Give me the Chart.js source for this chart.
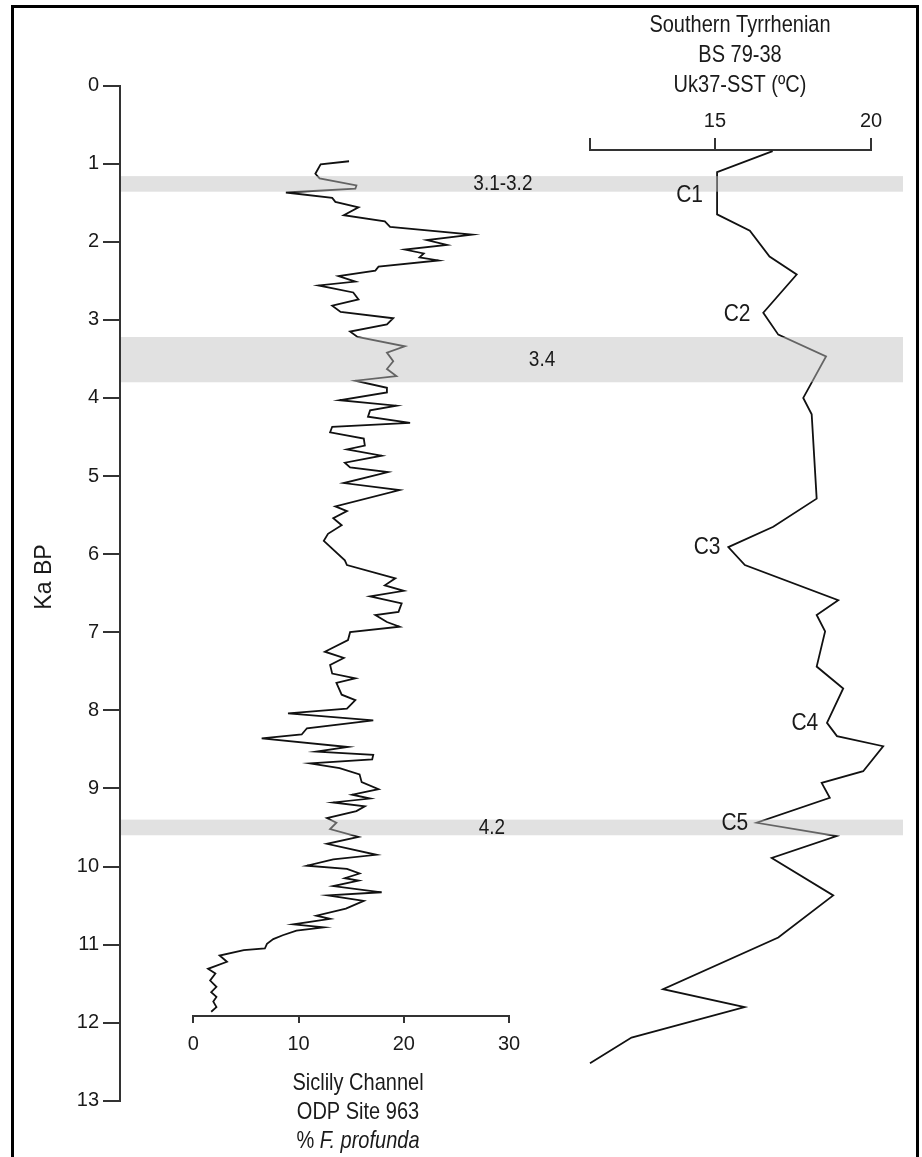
<!DOCTYPE html>
<html>
<head>
<meta charset="utf-8">
<script src="https://cdn.jsdelivr.net/npm/chart.js@4.4.1/dist/chart.umd.min.js"></script>
<style>
  html, body { margin: 0; padding: 0; background: #fff; overflow: hidden; }
  #page { position: relative; width: 922px; height: 1157px; }
  #page canvas { position: absolute; left: 0; top: 0; }
  #frame { position: absolute; left: 11px; top: 5px; width: 908px; height: 1170px; border: 3px solid #000; box-sizing: border-box; }
</style>
</head>
<body>
<div id="page">
  <div id="frame"></div>
  <canvas id="chart-profunda" width="922" height="1157"></canvas>
  <canvas id="chart-sst" width="922" height="1157"></canvas>
  <canvas id="chart-age" width="922" height="1157"></canvas>
</div>
<script>
//----------------------------------données

// Sicily Channel, ODP Site 963 : % F. profunda
const profKa = [0.97, 1.01, 1.13, 1.19, 1.28, 1.32, 1.37, 1.44, 1.49, 1.56, 1.66, 1.74, 1.81, 1.91, 1.98, 2.04, 2.10, 2.15, 2.20, 2.24,
  2.32, 2.37, 2.44, 2.51, 2.56, 2.65, 2.74, 2.82, 2.90, 2.98, 3.06, 3.15, 3.22, 3.34, 3.42, 3.53, 3.63, 3.72, 3.78, 3.87,
  3.93, 4.03, 4.10, 4.16, 4.24, 4.32, 4.37, 4.44, 4.52, 4.61, 4.66, 4.74, 4.83, 4.89, 4.95, 5.09, 5.18, 5.39, 5.45, 5.54,
  5.63, 5.74, 5.83, 6.08, 6.14, 6.31, 6.40, 6.47, 6.54, 6.63, 6.74, 6.78, 6.87, 6.93, 7.00, 7.10, 7.25, 7.33, 7.42, 7.53,
  7.59, 7.65, 7.80, 7.87, 7.98, 8.04, 8.13, 8.23, 8.31, 8.36, 8.47, 8.53, 8.57, 8.63, 8.68, 8.74, 8.82, 8.92, 9.01, 9.08,
  9.13, 9.18, 9.23, 9.29, 9.38, 9.44, 9.52, 9.62, 9.71, 9.85, 9.91, 9.99, 10.03, 10.09, 10.15, 10.18, 10.25, 10.33, 10.37, 10.44,
  10.54, 10.63, 10.67, 10.74, 10.78, 10.82, 10.88, 10.93, 10.99, 11.05, 11.07, 11.14, 11.22, 11.31, 11.37, 11.46, 11.54, 11.61, 11.67, 11.73,
  11.80, 11.86]
const profPct = [14.8, 12.1, 11.6, 12.0, 15.5, 15.4, 8.8, 13.2, 13.5, 15.7, 14.3, 18.2, 18.7, 26.5, 22.2, 24.1, 20.1, 21.9, 21.5, 23.3,
  17.6, 17.3, 13.8, 15.4, 11.9, 15.2, 15.7, 13.2, 14.0, 19.0, 18.4, 14.9, 15.6, 20.1, 18.4, 19.0, 18.4, 19.3, 15.4, 18.4,
  18.4, 13.9, 19.3, 16.8, 16.6, 20.6, 13.2, 13.0, 16.2, 16.3, 14.6, 17.9, 14.4, 14.9, 18.5, 14.3, 19.6, 13.5, 14.6, 13.3,
  14.1, 12.8, 12.4, 14.4, 14.6, 19.2, 18.2, 20.0, 16.8, 19.8, 19.5, 17.3, 18.4, 19.6, 14.9, 14.7, 12.5, 14.3, 13.0, 13.2,
  15.4, 13.6, 14.1, 15.4, 14.6, 9.0, 17.1, 10.8, 10.3, 6.5, 14.7, 11.7, 17.1, 17.0, 11.1, 13.9, 15.8, 16.0, 17.6, 15.1,
  16.8, 13.3, 16.3, 15.5, 12.7, 13.6, 13.0, 15.7, 12.7, 17.4, 13.3, 10.8, 14.6, 15.8, 14.4, 15.7, 13.3, 17.9, 12.8, 16.2,
  14.5, 11.7, 13.0, 9.5, 12.4, 9.8, 8.5, 7.6, 7.0, 6.8, 4.8, 2.5, 3.2, 1.4, 2.1, 1.6, 2.2, 1.7, 2.2, 1.9,
  2.2, 1.7]
const profTicks = [0, 10, 20, 30]

// Southern Tyrrhenian, BS 79-38 : Uk37-SST (°C)
const sstKa = [0.84, 1.11, 1.65, 1.86, 2.19, 2.42, 2.91, 3.19, 3.47, 4.00, 4.21, 5.29, 5.65, 5.91, 6.14, 6.59, 6.78, 6.99, 7.44, 7.72,
  8.16, 8.33, 8.46, 8.78, 8.93, 9.12, 9.44, 9.61, 9.89, 10.37, 10.91, 11.57, 11.80, 12.19, 12.52]
const sstVal = [16.85, 15.07, 15.07, 16.12, 16.75, 17.62, 16.55, 17.03, 18.56, 17.83, 18.10, 18.26, 16.87, 15.43, 15.96, 18.95, 18.26, 18.53, 18.26, 19.11,
  18.59, 18.91, 20.39, 19.75, 18.42, 18.68, 16.34, 18.90, 16.82, 18.79, 17.03, 13.34, 15.95, 12.33, 11.0]
const sstTicks = [11, 15, 20]

// épisodes froids C1..C5 (ancrés en ka / °C)
const coldLabels = ['C1', 'C2', 'C3', 'C4', 'C5']
const coldKa = [1.40, 2.93, 5.91, 8.16, 9.44]
const coldSst = [14.62, 16.14, 15.18, 18.31, 16.07]

// axe des âges et bandes grises
const ageTicks = [0, 1, 2, 3, 4, 5, 6, 7, 8, 9, 10, 11, 12, 13]
const bandFrom = [1.16, 3.22, 9.40]
const bandTo = [1.36, 3.80, 9.60]
const bandLabels = ['3.1-3.2', '3.4', '4.2']

//----------------------------------mise en page (pixels)
const FONT = "'Liberation Sans', Arial, sans-serif"
const AGE_TOP = 85.5      // pixel du 0 ka
const PX_KA = 78.1        // pixels par ka
const ageMax = ageTicks[ageTicks.length - 1]
const ageBottom = AGE_TOP + PX_KA * ageMax
const profBase = 1016     // ligne de base de l'axe % F. profunda
const sstBase = 150       // ligne de l'axe SST
const bandLabelX = [0.489, 0.539, 0.475]   // fraction de la largeur du panneau
const STRETCH = 1.18      // le texte de la figure est étiré verticalement

const noLegend = { legend: { display: false }, tooltip: { enabled: false } }
const axisLine = { color: '#333', width: 2 }
const tickFont = { family: FONT, size: 20 }

// texte centré sur (x, y), étiré verticalement comme l'original
function txt(ctx, s, x, y, size, align, style) {
  ctx.save()
  ctx.translate(x, y)
  ctx.scale(1, STRETCH)
  ctx.font = (style || '') + ' ' + size + 'px ' + FONT
  ctx.fillStyle = '#1a1a1a'
  ctx.textAlign = align || 'center'
  ctx.textBaseline = 'middle'
  ctx.fillText(s, 0, 0)
  ctx.restore()
}

// diagramme % F. profunda
const profChart = new Chart(document.getElementById('chart-profunda'), {
  type: 'line',
  data: {
    datasets: [{
      data: profKa.map((ka, i) => ({ x: profPct[i], y: ka })),
      borderColor: '#111',
      borderWidth: 1.8,
      pointRadius: 0,
      tension: 0
    }]
  },
  options: {
    responsive: false,
    animation: false,
    layout: { padding: { left: 193.3, right: 922 - 509, top: AGE_TOP, bottom: 1157 - profBase - 50 } },
    plugins: noLegend,
    scales: {
      x: {
        type: 'linear', position: 'bottom',
        min: profTicks[0], max: profTicks[profTicks.length - 1],
        afterFit: s => { s.height = 50 },
        afterBuildTicks: s => { s.ticks = profTicks.map(v => ({ value: v })) },
        ticks: { color: '#1a1a1a', font: tickFont, padding: 9 },
        grid: { drawOnChartArea: false, tickLength: 7, color: '#333', lineWidth: 2 },
        border: axisLine
      },
      y: { type: 'linear', reverse: true, min: 0, max: (profBase - AGE_TOP) / PX_KA, display: false }
    }
  },
  plugins: [{
    id: 'profTitle',
    afterDraw(chart) {
      const ctx = chart.ctx
      const cx = 358
      txt(ctx, 'Siclily Channel', cx, 1083, 20)
      txt(ctx, 'ODP Site 963', cx, 1112, 20)
      // "% " droit puis "F. profunda" en italique
      ctx.save()
      ctx.font = '20px ' + FONT
      const w1 = ctx.measureText('% ').width
      ctx.font = 'italic 20px ' + FONT
      const w2 = ctx.measureText('F. profunda').width
      ctx.restore()
      const x0 = cx - (w1 + w2) / 2
      txt(ctx, '% ', x0, 1141, 20, 'left')
      txt(ctx, 'F. profunda', x0 + w1, 1141, 20, 'left', 'italic')
    }
  }]
})

// diagramme SST
const sstChart = new Chart(document.getElementById('chart-sst'), {
  type: 'line',
  data: {
    datasets: [{
      data: sstKa.map((ka, i) => ({ x: sstVal[i], y: ka })),
      borderColor: '#111',
      borderWidth: 1.8,
      pointRadius: 0,
      tension: 0,
      clip: false
    }]
  },
  options: {
    responsive: false,
    animation: false,
    layout: { padding: { left: 590, right: 922 - 871, top: sstBase - 40, bottom: 1157 - ageBottom } },
    plugins: noLegend,
    scales: {
      x: {
        type: 'linear', position: 'top',
        min: sstTicks[0], max: sstTicks[sstTicks.length - 1],
        afterFit: s => { s.height = 40 },
        afterBuildTicks: s => { s.ticks = sstTicks.map(v => ({ value: v })) },
        ticks: { color: '#1a1a1a', font: tickFont, padding: 5,
          callback: v => v === sstTicks[0] ? '' : v },
        grid: { drawOnChartArea: false, tickLength: 12, color: '#333', lineWidth: 2 },
        border: axisLine
      },
      y: { type: 'linear', reverse: true, min: (sstBase - AGE_TOP) / PX_KA, max: ageMax, display: false }
    }
  },
  plugins: [{
    id: 'sstTitle',
    afterDraw(chart) {
      const ctx = chart.ctx
      txt(ctx, 'Southern Tyrrhenian', 740, 25, 20)
      txt(ctx, 'BS 79-38', 740, 55, 20)
      txt(ctx, 'Uk37-SST (ºC)', 740, 85, 20)
    }
  }]
})

// axe des âges + bandes (au-dessus des courbes)
new Chart(document.getElementById('chart-age'), {
  type: 'line',
  data: { datasets: [] },
  options: {
    responsive: false,
    animation: false,
    layout: { padding: { left: 60, right: 19, top: AGE_TOP, bottom: 1157 - ageBottom } },
    plugins: noLegend,
    scales: {
      x: { type: 'linear', min: 0, max: 1, display: false },
      y: {
        type: 'linear', position: 'left', reverse: true,
        min: ageTicks[0], max: ageMax,
        afterFit: s => { s.width = 60 },
        afterBuildTicks: s => { s.ticks = ageTicks.map(v => ({ value: v })) },
        ticks: { color: '#1a1a1a', font: tickFont, padding: 4 },
        grid: { drawOnChartArea: false, tickLength: 17, color: '#333', lineWidth: 2 },
        border: axisLine
      }
    }
  },
  plugins: [{
    id: 'bands',
    afterDraw(chart) {
      const ctx = chart.ctx
      const area = chart.chartArea
      const y = chart.scales.y
      const x = chart.scales.x
      ctx.save()
      ctx.fillStyle = 'rgba(192, 192, 192, 0.48)'
      bandFrom.forEach((from, i) => {
        const top = y.getPixelForValue(from)
        const bot = y.getPixelForValue(bandTo[i])
        ctx.fillRect(area.left + 1, top, area.right - area.left - 1, bot - top)
      })
      ctx.restore()
      bandLabels.forEach((lab, i) => {
        const mid = y.getPixelForValue((bandFrom[i] + bandTo[i]) / 2)
        txt(ctx, lab, x.getPixelForValue(bandLabelX[i]), mid, 19)
      })
      // étiquettes C1..C5 sur l'échelle SST
      const sx = sstChart.scales.x
      const sy = sstChart.scales.y
      coldLabels.forEach((lab, i) => {
        txt(ctx, lab, sx.getPixelForValue(coldSst[i]), sy.getPixelForValue(coldKa[i]), 21, 'right')
      })
      // titre de l'axe vertical
      ctx.save()
      ctx.translate(45, 577)
      ctx.rotate(-Math.PI / 2)
      ctx.font = '21px ' + FONT
      ctx.fillStyle = '#1a1a1a'
      ctx.textAlign = 'center'
      ctx.textBaseline = 'middle'
      ctx.scale(1.1, 1.1)
      ctx.fillText('Ka BP', 0, 0)
      ctx.restore()
    }
  }]
})
</script>
</body>
</html>
